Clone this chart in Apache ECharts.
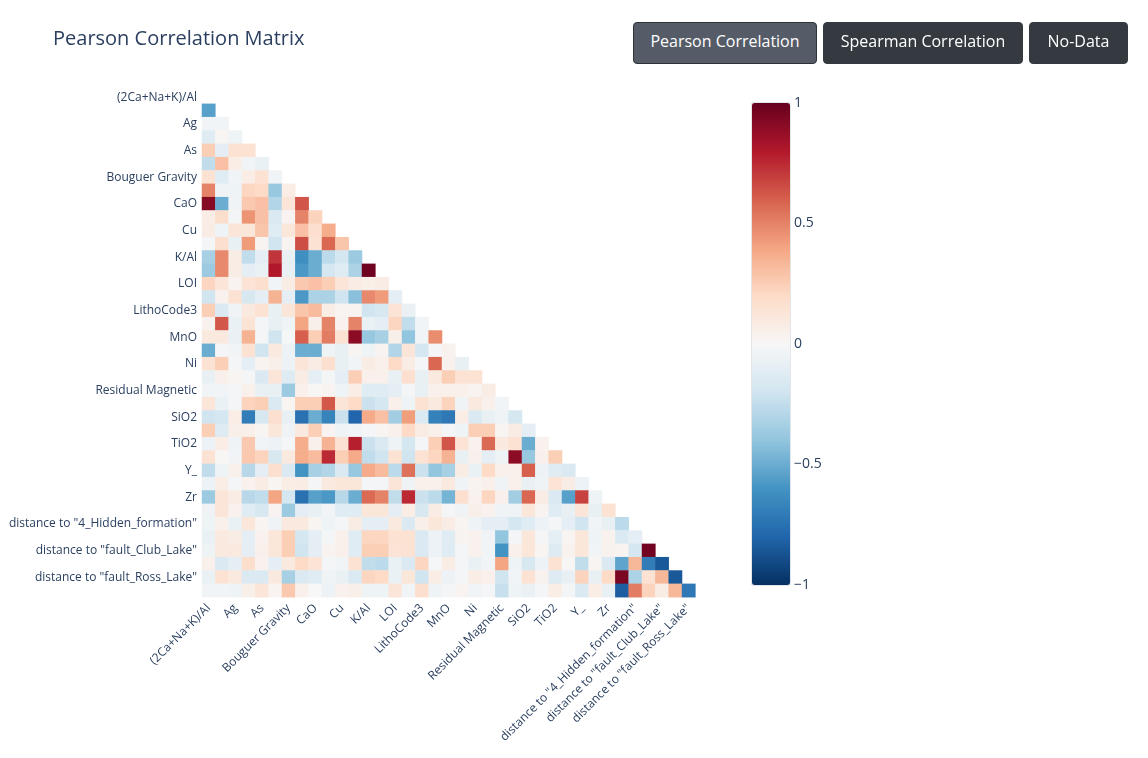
<html>
<head>
<meta charset="utf-8">
<script src="https://cdn.jsdelivr.net/npm/echarts@6/dist/echarts.min.js"></script>
<style>
    html, body {
        width: 100%;
        height: 100%;
        margin: 0;
        background: #fff;
    }
    #main {
        width: 1148px;
        height: 758px;
    }
    .btn {
        position: absolute;
        top: 22px;
        height: 42px;
        box-sizing: border-box;
        border-radius: 4px;
        border: 1px solid #343a40;
        background: #343a40;
        color: #fff;
        font-family: 'Open Sans', sans-serif;
        font-size: 16px;
        line-height: 37px;
        text-align: center;
    }
    .btn.active {
        background: #555c67;
        border-color: #2e3338;
    }
</style>
</head>
<body>
<div id="main"></div>
<div class="btn active" style="left:633px;width:184px;">Pearson Correlation</div>
<div class="btn" style="left:823px;width:200px;">Spearman Correlation</div>
<div class="btn" style="left:1029px;width:99px;">No-Data</div>
<script>
// variables (only every other one is labelled on the axes)
var variables = [
    '(2Ca+Na+K)/Al', 'AIOH', 'Ag', 'Al2O3', 'As', 'Au', 'Bouguer Gravity', 'Ca',
    'CaO', 'Co', 'Cu', 'Fe2O3', 'K/Al', 'K2O', 'LOI', 'Li', 'LithoCode3', 'MgO',
    'MnO', 'Na2O', 'Ni', 'P2O5', 'Residual Magnetic', 'Sb', 'SiO2', 'Sr', 'TiO2', 'V',
    'Y_', 'Zn', 'Zr', 'distance to "2_Contact"', 'distance to "4_Hidden_formation"',
    'distance to "Batholith"', 'distance to "fault_Club_Lake"', 'distance to "fault_Pine_Lake"',
    'distance to "fault_Ross_Lake"', 'distance to "fault_Wolf_Lake"'
];

// lower triangle of the pearson matrix, row i holds columns 0..i-1
var lowerRows = [
    [],
    [-0.55],
    [-0.03, -0.03],
    [-0.12, 0.02, -0.05],
    [0.25, -0.1, 0.15, 0.15],
    [-0.25, 0.3, 0.07, -0.03, -0.07],
    [0.15, -0.12, -0.03, 0.07, 0.15, -0.03],
    [0.5, -0.04, -0.05, 0.22, 0.2, -0.38, 0.07],
    [0.92, -0.5, -0.04, 0.27, 0.3, -0.3, 0.13, 0.63],
    [0.07, 0.18, -0.02, 0.45, 0.3, -0.15, 0.03, 0.5, 0.23],
    [0.08, -0.05, 0.13, 0.12, 0.28, -0.12, 0.12, 0.3, 0.17, 0.37],
    [-0.02, 0.17, -0.08, 0.43, 0.03, -0.2, 0.03, 0.65, 0.15, 0.58, 0.28],
    [-0.33, 0.48, 0.08, -0.25, -0.1, 0.72, -0.08, -0.62, -0.5, -0.27, -0.18, -0.37],
    [-0.37, 0.48, 0.08, -0.1, -0.07, 0.8, -0.08, -0.58, -0.5, -0.18, -0.12, -0.32, 0.98],
    [0.22, 0.13, 0.03, 0.14, 0.17, -0.03, 0.08, 0.27, 0.3, 0.25, 0.13, 0.08, 0.06, 0.08],
    [-0.2, 0.04, 0.15, -0.17, -0.1, 0.35, -0.1, -0.58, -0.32, -0.32, -0.2, -0.42, 0.48, 0.43, -0.1],
    [0.25, -0.15, -0.04, 0.1, 0.15, -0.08, 0.13, 0.28, 0.32, 0.07, 0.03, 0.03, -0.2, -0.17, 0.14, -0.07],
    [0.04, 0.62, -0.07, 0.14, -0.02, -0.08, -0.05, 0.4, 0.06, 0.5, 0.04, 0.5, -0.07, -0.1, 0.22, -0.25, -0.03],
    [0.1, 0.1, -0.07, 0.35, -0.02, -0.2, -0.01, 0.6, 0.25, 0.52, 0.15, 0.9, -0.38, -0.33, 0.06, -0.4, -0.03, 0.47],
    [-0.5, -0.02, -0.03, 0.15, -0.2, 0.1, -0.06, -0.5, -0.5, -0.05, -0.08, 0.02, -0.05, 0.03, -0.3, 0.13, -0.18, -0.02, 0.04],
    [0.15, 0.25, -0.02, -0.1, 0.03, 0.06, -0.06, 0.13, 0.08, 0.17, -0.08, -0.03, 0.08, 0.05, 0.2, 0.08, -0.02, 0.58, 0.04, -0.08],
    [-0.08, 0.05, 0.02, -0.02, -0.15, 0.13, -0.13, 0.08, -0.1, -0.02, -0.1, 0.25, 0.05, 0.05, -0.08, 0.17, -0.08, 0.1, 0.25, 0.15, 0.15],
    [-0.03, -0.03, -0.02, 0.05, -0.08, -0.08, -0.37, 0.05, 0.01, 0.03, -0.05, 0.07, -0.12, -0.12, -0.1, -0.02, -0.08, 0.05, 0.05, 0.05, 0.03, 0.08],
    [0.13, -0.07, -0.02, 0.23, 0.25, -0.15, 0.02, 0.25, 0.25, 0.62, 0.13, 0.2, -0.22, -0.18, 0.05, -0.05, 0.15, 0.1, 0.23, -0.04, 0.1, 0.05, -0.03],
    [-0.2, -0.18, 0.07, -0.7, -0.17, 0.17, -0.08, -0.75, -0.5, -0.67, -0.22, -0.8, 0.38, 0.3, -0.35, 0.42, -0.15, -0.68, -0.72, 0.07, -0.15, -0.08, -0.05, -0.18],
    [0.25, -0.13, 0.06, 0.06, 0.02, 0.12, -0.04, 0.1, 0.25, 0.03, -0.05, -0.03, -0.02, 0.02, 0.05, 0.2, 0.08, 0.05, -0.02, -0.05, 0.25, 0.25, 0.02, 0.08, -0.1],
    [-0.06, 0.07, -0.04, 0.27, -0.03, -0.06, -0.02, 0.37, 0.05, 0.35, 0.15, 0.78, -0.22, -0.15, -0.05, -0.18, -0.02, 0.25, 0.63, 0.14, 0.04, 0.57, 0.1, 0.15, -0.5, 0.04],
    [0.15, 0.01, -0.03, 0.27, 0.23, -0.17, 0.1, 0.37, 0.32, 0.75, 0.25, 0.38, -0.25, -0.2, 0.15, -0.2, 0.15, 0.22, 0.35, -0.08, 0.05, -0.1, -0.05, 0.9, -0.38, 0.05, 0.25],
    [-0.25, -0.05, 0.05, -0.28, -0.1, 0.17, -0.15, -0.6, -0.33, -0.3, -0.15, -0.38, 0.38, 0.32, -0.27, 0.55, -0.22, -0.4, -0.33, 0.08, -0.07, 0.2, 0.05, 0.05, 0.6, -0.06, -0.12, -0.15],
    [-0.06, 0.07, -0.02, 0.04, 0.08, 0.02, 0.07, 0.08, -0.02, 0.1, 0.12, 0.12, -0.02, -0.02, 0.13, -0.04, 0.05, 0.05, 0.1, -0.04, 0.03, 0.05, -0.04, 0.05, -0.08, -0.05, 0.14, 0.08, -0.06],
    [-0.37, 0.13, 0.08, -0.28, -0.25, 0.4, -0.18, -0.75, -0.55, -0.58, -0.28, -0.5, 0.57, 0.5, -0.25, 0.75, -0.22, -0.27, -0.47, 0.17, 0.04, 0.22, 0.05, -0.35, 0.58, 0.08, -0.15, -0.55, 0.68, -0.05],
    [-0.04, 0.13, 0.04, -0.12, -0.17, 0.03, -0.37, -0.1, -0.08, -0.03, -0.12, -0.12, 0.12, 0.12, -0.1, 0.07, -0.17, 0.08, -0.02, -0.04, 0.06, 0.04, -0.04, -0.04, 0.12, 0.03, -0.12, -0.08, 0.13, -0.08, 0.15],
    [-0.05, 0.05, -0.07, 0.12, 0.02, -0.04, 0.1, 0.1, 0.02, -0.05, -0.02, 0.08, -0.1, -0.1, 0.1, -0.15, 0.06, 0.12, 0.08, 0.02, -0.05, -0.1, -0.1, -0.18, -0.12, -0.06, -0.02, -0.1, -0.2, -0.03, -0.08, -0.27],
    [-0.07, 0.1, 0.08, -0.1, 0.04, 0.12, 0.25, -0.18, -0.1, -0.02, 0.05, -0.12, 0.22, 0.22, 0.15, 0.15, -0.15, -0.06, -0.12, 0.03, 0.04, -0.03, -0.4, -0.02, 0.12, -0.02, -0.1, 0.02, 0.12, -0.05, 0.04, -0.15, -0.1],
    [-0.05, 0.1, 0.1, -0.1, 0.05, 0.12, 0.25, -0.2, -0.1, 0.03, 0.05, -0.12, 0.25, 0.25, 0.14, 0.15, -0.15, -0.06, -0.12, -0.02, 0.04, -0.03, -0.6, 0.05, 0.12, 0.02, -0.13, 0.04, 0.12, -0.03, 0.04, 0.03, -0.18, 0.97],
    [0.05, -0.15, -0.1, 0.18, 0.04, -0.1, 0.1, 0.2, 0.14, -0.02, -0.03, 0.15, -0.25, -0.27, -0.07, -0.15, 0.22, -0.01, 0.08, -0.02, -0.07, -0.03, 0.4, -0.05, -0.17, -0.06, 0.15, 0.01, -0.25, 0.02, -0.15, -0.53, 0.33, -0.7, -0.85],
    [-0.07, 0.15, 0.1, -0.15, -0.15, 0.1, -0.33, -0.15, -0.12, -0.04, -0.07, -0.15, 0.22, 0.2, -0.07, 0.12, -0.2, 0.07, -0.06, -0.02, 0.07, 0.05, -0.2, -0.03, 0.15, 0.04, -0.13, -0.08, 0.23, -0.08, 0.2, 0.95, -0.32, 0.15, 0.33, -0.85],
    [-0.03, -0.03, -0.05, 0.06, 0.13, 0.03, 0.27, 0.05, 0.0, -0.06, 0.04, 0.06, -0.05, -0.05, 0.13, -0.03, 0.17, -0.05, -0.02, 0.03, -0.03, -0.02, -0.23, -0.05, -0.07, -0.02, 0.07, -0.02, -0.15, 0.07, -0.08, -0.83, 0.52, 0.23, 0.08, 0.33, -0.72]
];

// colour bar ticks and RdBu scale (low -> high)
var barTicks = [-1, -0.5, 0, 0.5, 1];
var rdbu = ['#053061', '#2166ac', '#4393c3', '#92c5de', '#d1e5f0', '#f7f7f7',
            '#fddbc7', '#f4a582', '#d6604d', '#b2182b', '#67001f'];

var cells = [];
for (var i = 0; i < lowerRows.length; i++) {
    for (var j = 0; j < lowerRows[i].length; j++) {
        cells.push([j, i, lowerRows[i][j]]);
    }
}

var fontColor = '#2a3f5f';
var chart = echarts.init(document.getElementById('main'));
var option = {
    animation: false,
    textStyle: { fontFamily: 'Open Sans' },
    title: {
        text: 'Pearson Correlation Matrix',
        left: 48,
        top: 24,
        textStyle: { fontSize: 20, fontWeight: 'normal', color: fontColor, fontFamily: 'Open Sans' }
    },
    grid: [
        { left: 202, top: 90.5, width: 506.7, height: 506.7 },
        { left: 752, top: 103, width: 38, height: 482, show: true, borderColor: '#c9ccd6', borderWidth: 1 }
    ],
    xAxis: [
        {
            type: 'category',
            data: variables,
            gridIndex: 0,
            axisLine: { show: false },
            axisTick: { show: false },
            splitLine: { show: false },
            axisLabel: { interval: 1, rotate: 45, fontSize: 12, color: fontColor, margin: 9 }
        },
        { type: 'value', gridIndex: 1, show: false, min: 0, max: 1 }
    ],
    yAxis: [
        {
            type: 'category',
            data: variables,
            inverse: true,
            gridIndex: 0,
            axisLine: { show: false },
            axisTick: { show: false },
            splitLine: { show: false },
            axisLabel: { interval: 1, fontSize: 12, color: fontColor, margin: 5 }
        },
        {
            type: 'value',
            gridIndex: 1,
            position: 'right',
            min: barTicks[0],
            max: barTicks[barTicks.length - 1],
            interval: 0.5,
            axisLine: { show: false },
            axisTick: { show: false },
            splitLine: { show: false },
            axisLabel: {
                fontSize: 14,
                color: fontColor,
                margin: 4,
                formatter: function (v) { return String(v).replace('-', '\u2212'); }
            }
        }
    ],
    visualMap: {
        type: 'continuous',
        seriesIndex: 0,
        min: -1,
        max: 1,
        calculable: false,
        hoverLink: false,
        left: 752,
        top: 103,
        padding: 0,
        itemWidth: 38,
        itemHeight: 482,
        text: ['', ''],
        inRange: { color: rdbu }
    },
    series: [
        {
            type: 'heatmap',
            xAxisIndex: 0,
            yAxisIndex: 0,
            data: cells,
            itemStyle: { borderWidth: 0 },
            emphasis: { disabled: true }
        },
        {
            type: 'line',
            xAxisIndex: 1,
            yAxisIndex: 1,
            data: [],
            silent: true
        }
    ]
};
chart.setOption(option);
</script>
</body>
</html>
